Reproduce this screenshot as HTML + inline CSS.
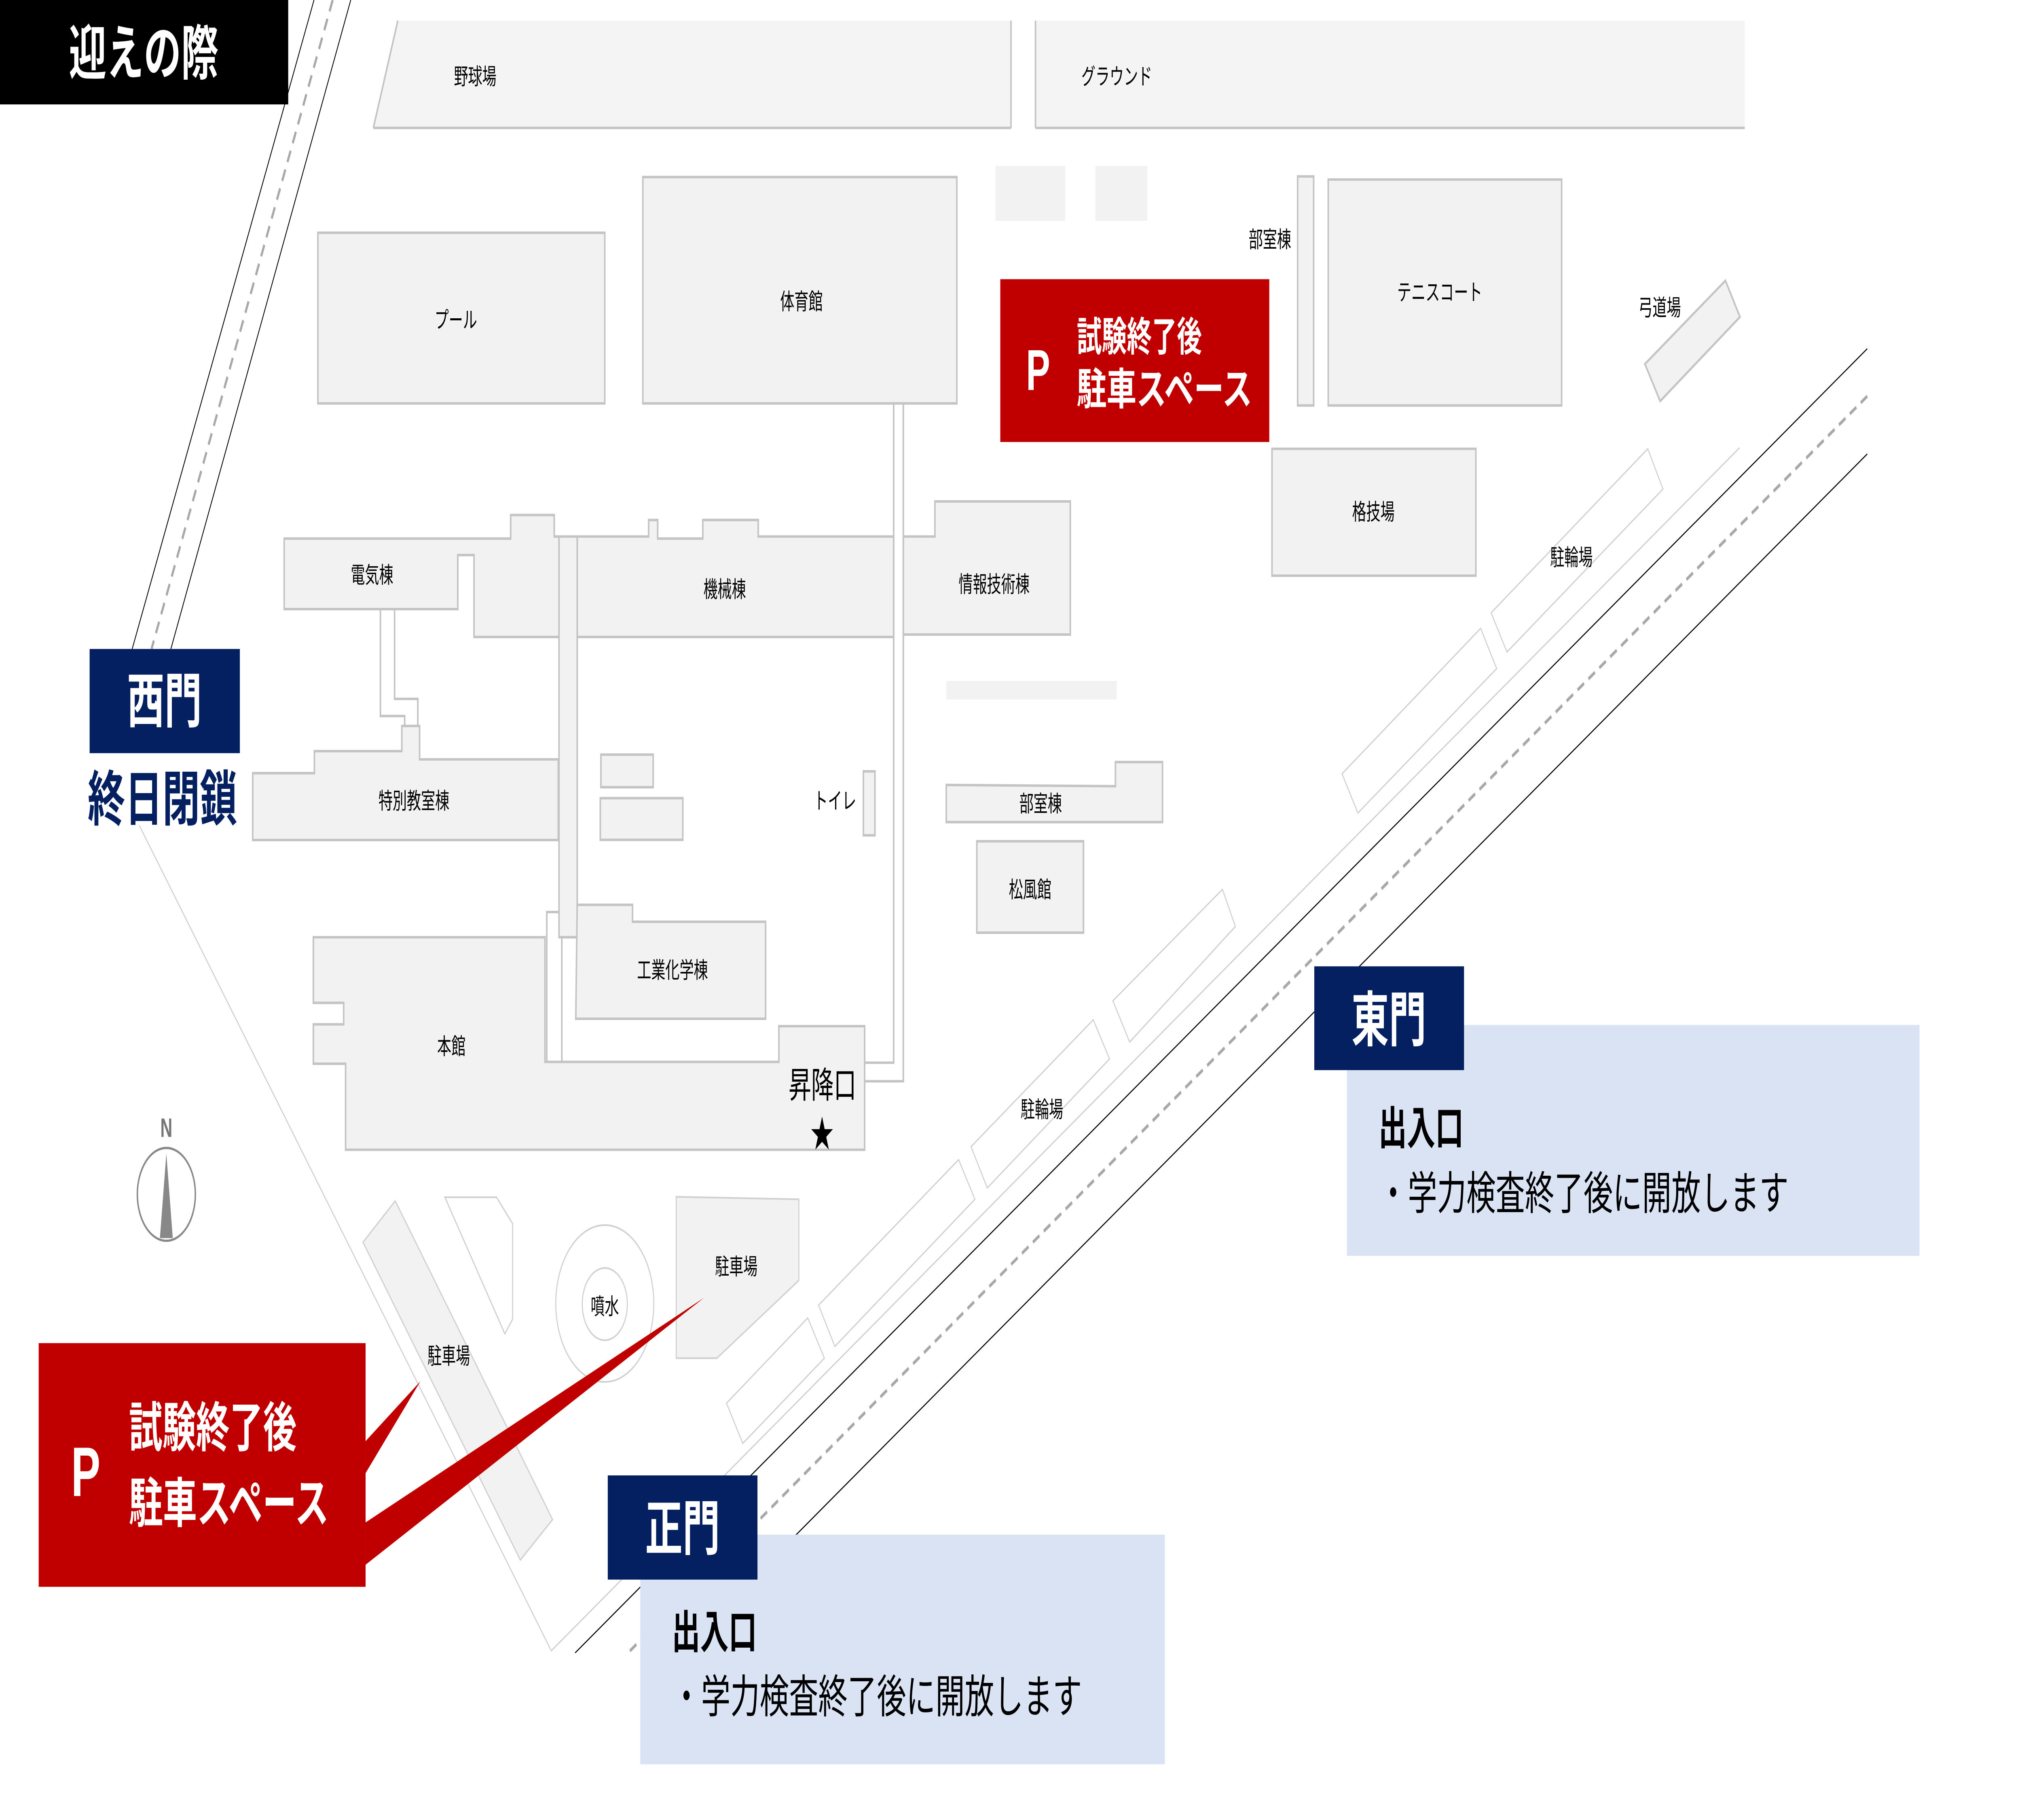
<!DOCTYPE html>
<html><head><meta charset="utf-8"><style>
html,body{margin:0;padding:0;background:#fff;width:100%;height:100%;overflow:hidden;}
svg{display:block;width:100vw;height:100vh;}
text{font-family:"Liberation Sans","Noto Sans CJK JP",sans-serif;}
</style></head><body>
<svg viewBox="0 0 1568 882" preserveAspectRatio="none" xmlns="http://www.w3.org/2000/svg">
<rect width="1568" height="882" fill="#fff"/>
<g fill="#f2f2f2" stroke="#c4c4c4" stroke-width="1.2">
<polygon points="308.5,10 784,10 784,62 289.5,62" fill="#f4f4f4" stroke="none"/>
<line x1="289.5" y1="62" x2="784" y2="62"/>
<line x1="784" y1="10" x2="784" y2="62"/>
<line x1="308.5" y1="10" x2="289.5" y2="62"/>
<rect x="803" y="10" width="550" height="52" fill="#f4f4f4" stroke="none"/>
<line x1="803" y1="62" x2="1353" y2="62"/>
<line x1="803" y1="10" x2="803" y2="62"/>
<rect x="772" y="80.4" width="54" height="26.6" stroke="none"/>
<rect x="849.4" y="80.4" width="40.3" height="26.6" stroke="none"/>
<rect x="246.5" y="112.8" width="222.5" height="82.7"/>
<rect x="498.5" y="85.8" width="243.5" height="109.7"/>
<rect x="1006.3" y="85.5" width="12.4" height="111"/>
<rect x="1030" y="87" width="181" height="109.5"/>
<polygon points="1275.6,176.4 1338,136 1349.3,153.6 1287.4,194.4"/>
<rect x="986.4" y="217.5" width="158.1" height="61.5"/>
<polygon points="220.4,261 396,261 396,249.6 429.8,249.6 429.8,260 433.5,260 433.5,308.7 367.6,308.7 367.6,269 355,269 355,295.2 220.4,295.2"/>
<polygon points="447.6,260 503,260 503,252 510,252 510,261 545,261 545,252 588,252 588,260 693,260 693,308.7 447.6,308.7"/>
<polygon points="700.5,260 725,260 725,243 830,243 830,307.5 700.5,307.5"/>
<polygon points="433.5,260 447.6,260 447.6,454.2 433.5,454.2"/>
<polyline fill="none" points="433.5,442 424,442 424,516"/>
<polyline fill="none" points="447.6,454.2 435.7,454.2 435.7,514.6"/>
<polyline fill="none" points="295,295.2 295,347 313.8,347 313.8,351.8"/>
<polyline fill="none" points="306,295.2 306,338.7 324,338.7 324,351.8"/>
<polygon points="196,374.7 243.8,374.7 243.8,364 311.6,364 311.6,351.8 325.4,351.8 325.4,368 432.9,368 432.9,407.1 196,407.1"/>
<rect x="466" y="365.7" width="40.5" height="15.8"/>
<rect x="465.5" y="386.8" width="64" height="20.2"/>
<rect x="669.5" y="373.8" width="9" height="31"/>
<rect x="733.8" y="330" width="132.2" height="9" stroke="none"/>
<polygon points="733.8,380.4 865,381 865,369.3 901.5,369.3 901.5,398.4 733.8,398.4"/>
<rect x="757.5" y="407.7" width="82.7" height="44.3"/>
<polygon points="447.6,438.5 490.5,438.5 490.5,446.7 593.7,446.7 593.7,493.7 446.5,493.7"/>
<polygon points="243,454.2 422.6,454.2 422.6,514.6 604,514.6 604,497.3 670.5,497.3 670.5,557.2 268,557.2 268,515.5 243,515.5 243,496.4 266.5,496.4 266.5,486 243,486"/>
<polyline fill="none" points="693,195.5 693,515 670.5,515"/>
<polyline fill="none" points="700.5,195.5 700.5,524 670.5,524"/>
<polygon points="281.5,602 306.5,582 428.5,736.4 403.5,756" stroke="#d0d0d0" stroke-width="0.8"/>
<polygon points="345,580.2 385,580.2 397.5,593 397.5,639.3 391.5,646.4" fill="#fff" stroke="#d0d0d0" stroke-width="0.8"/>
<polygon points="524.4,580 619.5,581.2 619.5,620.5 555.9,658.2 524.4,658.2" stroke="#d0d0d0" stroke-width="0.8"/>
</g>
<circle cx="469" cy="631.7" r="38" fill="none" stroke="#d0d0d0" stroke-width="0.8"/>
<circle cx="469" cy="632" r="17.5" fill="none" stroke="#d0d0d0" stroke-width="0.8"/>
<g fill="none" stroke="#cfcfcf" stroke-width="0.7">
<polygon points="563.4,680 626.4,638.7 639.3,658.2 576,699.5"/>
<polygon points="634.8,632.5 743.4,562 756,581.2 647.4,652.5"/>
<polygon points="753,555.7 847.8,494.2 860.4,513.2 765.6,575.7"/>
<polygon points="863,485 948,431 958,449 876,505"/>
<polygon points="1040.7,375 1148.2,304.5 1160.6,324 1053,394"/>
<polygon points="1156.3,297 1277.8,217.5 1289.6,237 1168.6,316"/>
<polyline points="108,400 427.5,800 1349,217"/>
</g>
<g stroke="#000" stroke-width="0.6" fill="none">
<line x1="243.5" y1="0" x2="102.5" y2="314.5"/>
<line x1="272" y1="0" x2="132.5" y2="314.5"/>
<line x1="1448" y1="169" x2="446" y2="801"/>
<line x1="1448" y1="220" x2="617" y2="744"/>
</g>
<g stroke="#a8a8a8" stroke-width="1.6" stroke-dasharray="6,4" fill="none">
<line x1="258" y1="0" x2="117.5" y2="314.5"/>
<line x1="1448" y1="192" x2="487" y2="801"/>
</g>
<g font-size="11" fill="#000" text-anchor="middle">
<text x="368.5" y="41">野球場</text>
<text x="866" y="41">グラウンド</text>
<text x="353.5" y="159">プール</text>
<text x="621.5" y="150">体育館</text>
<text x="984.8" y="120">部室棟</text>
<text x="1116.5" y="145.5">テニスコート</text>
<text x="1287" y="153">弓道場</text>
<text x="1065" y="252">格技場</text>
<text x="1218.6" y="274">駐輪場</text>
<text x="288.5" y="282.5">電気棟</text>
<text x="562" y="289.5">機械棟</text>
<text x="770.9" y="287">情報技術棟</text>
<text x="321" y="392">特別教室棟</text>
<text x="647.5" y="392">トイレ</text>
<text x="807" y="393.4">部室棟</text>
<text x="798.8" y="435">松風館</text>
<text x="521.5" y="474">工業化学棟</text>
<text x="350" y="511">本館</text>
<text x="808" y="541.5">駐輪場</text>
<text x="571" y="617.7">駐車場</text>
<text x="469" y="637">噴水</text>
<text x="348" y="661">駐車場</text>
</g>
<text x="637.8" y="532" font-size="17.5" text-anchor="middle">昇降口</text>
<text x="637.5" y="556" font-size="18" text-anchor="middle">★</text>
<text x="129" y="551" font-size="13" font-weight="bold" fill="#777" text-anchor="middle">N</text>
<circle cx="129" cy="578.8" r="22.5" fill="#fff" stroke="#888" stroke-width="1.1"/>
<polygon points="129,559 124,600 134,600" fill="#888"/>
<rect x="0" y="0" width="223.5" height="50.6" fill="#000"/>
<text x="111.5" y="36" font-size="29" font-weight="bold" fill="#fff" text-anchor="middle">迎えの際</text>
<rect x="69.5" y="314.5" width="116.5" height="50.5" fill="#042060"/>
<text x="127.5" y="350" font-size="29" font-weight="bold" fill="#fff" text-anchor="middle">西門</text>
<text x="126" y="397.5" font-size="29" font-weight="bold" fill="#042060" text-anchor="middle">終日閉鎖</text>
<rect x="775.7" y="135.3" width="208.6" height="78.9" fill="#c00000"/>
<text x="805" y="189" font-size="28" font-weight="bold" fill="#fff" text-anchor="middle">P</text>
<text x="835" y="170" font-size="19.5" font-weight="bold" fill="#fff" textLength="97" lengthAdjust="spacingAndGlyphs">試験終了後</text>
<text x="835" y="196" font-size="21" font-weight="bold" fill="#fff" textLength="136" lengthAdjust="spacingAndGlyphs">駐車スペース</text>
<polygon points="283.5,698.4 326,669.4 283.5,713.9" fill="#c00000"/>
<polygon points="283.5,737.8 546,628.9 283.5,758.3" fill="#c00000"/>
<rect x="30" y="650.9" width="253.5" height="118.1" fill="#c00000"/>
<text x="66.5" y="725" font-size="34" font-weight="bold" fill="#fff" text-anchor="middle">P</text>
<text x="100" y="701" font-size="26" font-weight="bold" fill="#fff" textLength="130" lengthAdjust="spacingAndGlyphs">試験終了後</text>
<text x="100" y="737.7" font-size="26" font-weight="bold" fill="#fff" textLength="155" lengthAdjust="spacingAndGlyphs">駐車スペース</text>
<rect x="1044.5" y="496.7" width="444" height="111.9" fill="#dae3f3"/>
<rect x="1019.2" y="468.3" width="116.1" height="50.3" fill="#042060"/>
<text x="1077" y="504.5" font-size="29" font-weight="bold" fill="#fff" text-anchor="middle">東門</text>
<text x="1069" y="554.5" font-size="22" font-weight="bold" fill="#000">出入口</text>
<text x="1069" y="586" font-size="22" fill="#000" textLength="318" lengthAdjust="spacingAndGlyphs">・学力検査終了後に開放します</text>
<rect x="496.5" y="743.7" width="406.8" height="111.3" fill="#dae3f3"/>
<rect x="471.3" y="715" width="116.1" height="50.5" fill="#042060"/>
<text x="529.3" y="751" font-size="29" font-weight="bold" fill="#fff" text-anchor="middle">正門</text>
<text x="521" y="798.7" font-size="22" font-weight="bold" fill="#000">出入口</text>
<text x="521" y="830" font-size="22" fill="#000" textLength="318" lengthAdjust="spacingAndGlyphs">・学力検査終了後に開放します</text>
</svg>
</body></html>
